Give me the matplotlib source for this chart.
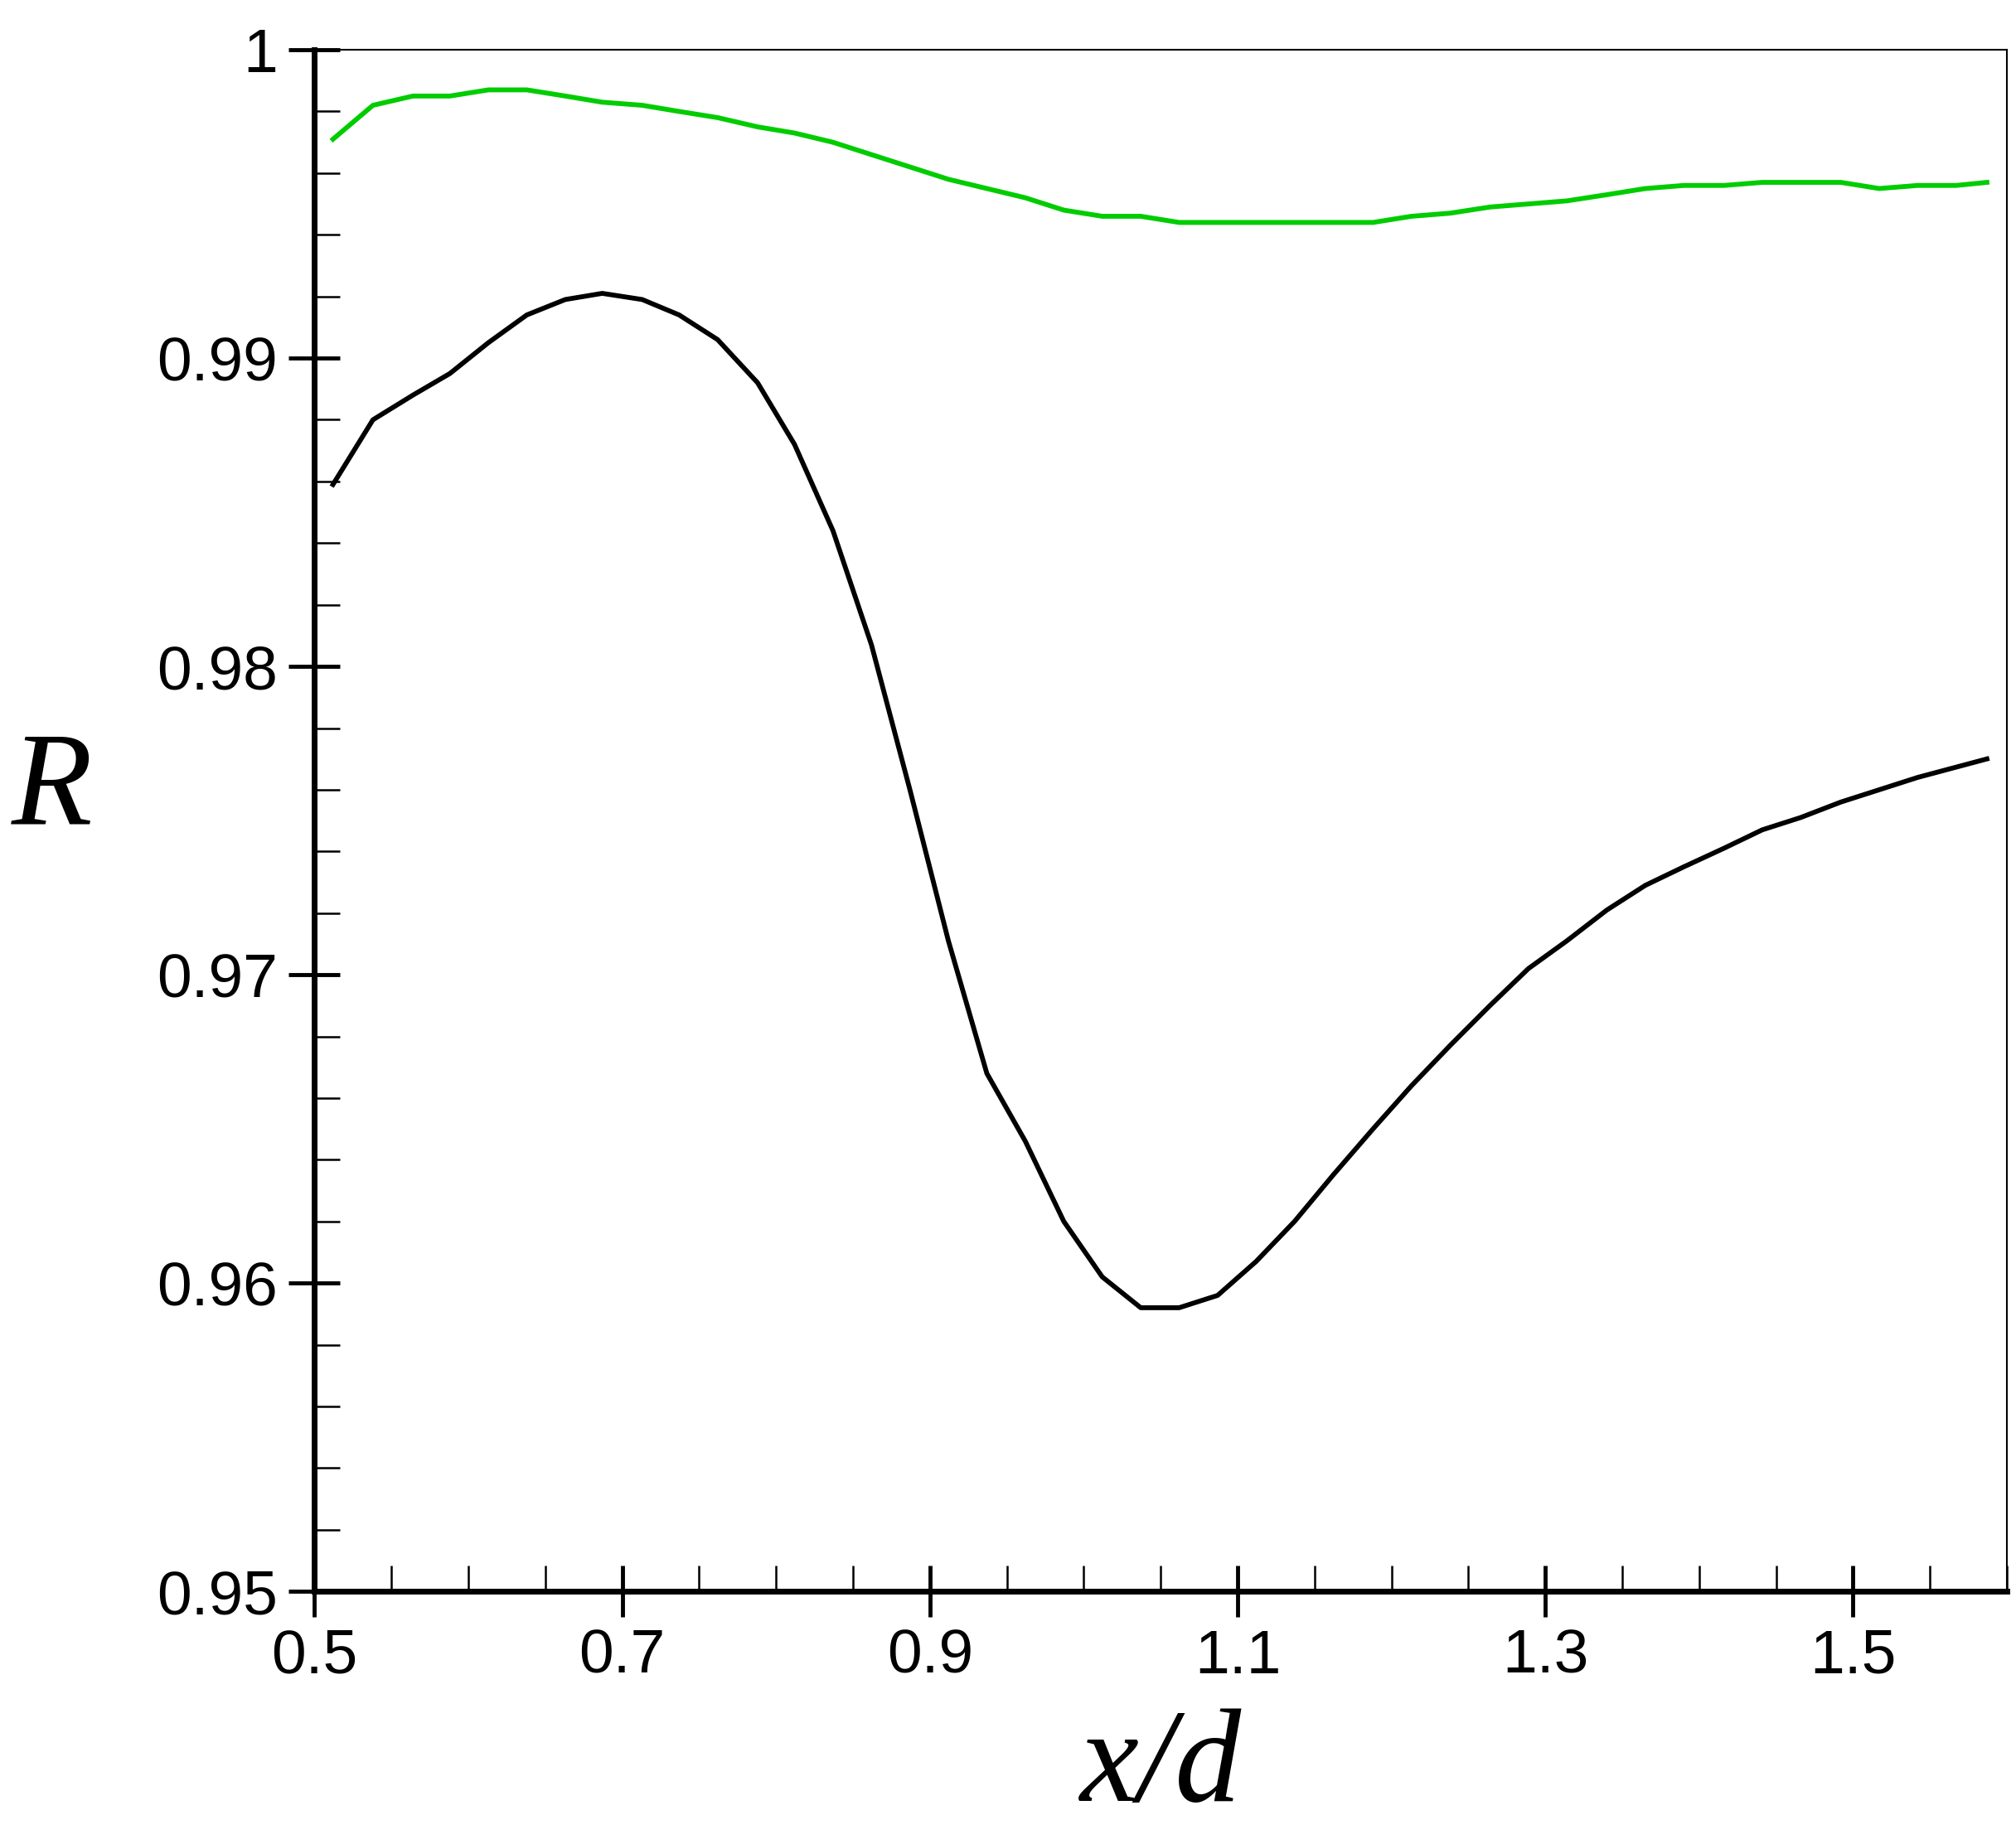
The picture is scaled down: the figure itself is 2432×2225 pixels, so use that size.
import matplotlib
matplotlib.use("Agg")
import matplotlib.pyplot as plt
from matplotlib.ticker import MultipleLocator, FixedLocator, FuncFormatter

x = [0.512,0.538,0.564,0.588,0.613,0.638,0.663,0.687,0.713,0.737,0.762,0.788,0.812,0.837,0.862,0.887,0.912,0.937,0.962,0.987,1.012,1.037,1.062,1.087,1.112,1.137,1.162,1.188,1.213,1.238,1.264,1.289,1.314,1.340,1.365,1.390,1.416,1.441,1.466,1.492,1.517,1.542,1.587]
black = [0.9859,0.9880,0.9888,0.9895,0.9905,0.9914,0.9919,0.9921,0.9919,0.9914,0.9906,0.9892,0.9872,0.9844,0.9807,0.9760,0.9711,0.9668,0.9646,0.9620,0.9602,0.9592,0.9592,0.9596,0.9607,0.9620,0.9635,0.9650,0.9664,0.9677,0.9690,0.9702,0.9711,0.9721,0.9729,0.9735,0.9741,0.9747,0.9751,0.9756,0.9760,0.9764,0.9770]
xg = [0.512,0.538,0.564,0.588,0.613,0.638,0.663,0.687,0.713,0.737,0.762,0.788,0.812,0.837,0.862,0.887,0.912,0.937,0.962,0.987,1.012,1.037,1.062,1.087,1.112,1.137,1.162,1.188,1.213,1.238,1.264,1.289,1.314,1.340,1.365,1.390,1.416,1.441,1.466,1.492,1.517,1.542,1.567,1.587]
green = [0.9971,0.9982,0.9985,0.9985,0.9987,0.9987,0.9985,0.9983,0.9982,0.9980,0.9978,0.9975,0.9973,0.9970,0.9966,0.9962,0.9958,0.9955,0.9952,0.9948,0.9946,0.9946,0.9944,0.9944,0.9944,0.9944,0.9944,0.9944,0.9946,0.9947,0.9949,0.9950,0.9951,0.9953,0.9955,0.9956,0.9956,0.9957,0.9957,0.9957,0.9955,0.9956,0.9956,0.9957]
xticks = [0.5, 0.7, 0.9, 1.1, 1.3, 1.5]

fig = plt.figure(figsize=(24.32, 22.25), dpi=100)
ax = fig.add_axes([0.156, 0.137, 0.8395, 0.836])
ax.plot(x, black, color="black", lw=4.2)
ax.plot(xg, green, color="#00cc00", lw=4.2)
ax.set_xlim(0.5, 1.6)
ax.set_ylim(0.95, 1.0)
ax.xaxis.set_major_locator(FixedLocator(xticks))
ax.xaxis.set_minor_locator(MultipleLocator(0.05))
ax.yaxis.set_major_locator(MultipleLocator(0.01))
ax.yaxis.set_minor_locator(MultipleLocator(0.002))
ax.xaxis.set_major_formatter(FuncFormatter(lambda v, p: f"{v:.1f}"))
ax.yaxis.set_major_formatter(FuncFormatter(lambda v, p: "1" if abs(v-1) < 1e-9 else f"{v:.2f}"))
for s in ["left", "bottom"]:
    ax.spines[s].set_linewidth(5)
for s in ["top", "right"]:
    ax.spines[s].set_linewidth(1.5)
ax.tick_params(which="major", direction="inout", length=44, width=3.5, labelsize=54, pad=10)
ax.tick_params(which="minor", direction="in", length=22, width=1.8)
for lab in ax.get_xticklabels() + ax.get_yticklabels():
    lab.set_family("Liberation Sans")
ax.set_xlabel("x/d", fontsize=115, family="Liberation Serif", style="italic", labelpad=20)
ax.set_ylabel("R", fontsize=115, family="Liberation Serif", style="italic", rotation=0)
ax.yaxis.set_label_coords(-0.155, 0.48)
fig.savefig("out.png", dpi=100)
